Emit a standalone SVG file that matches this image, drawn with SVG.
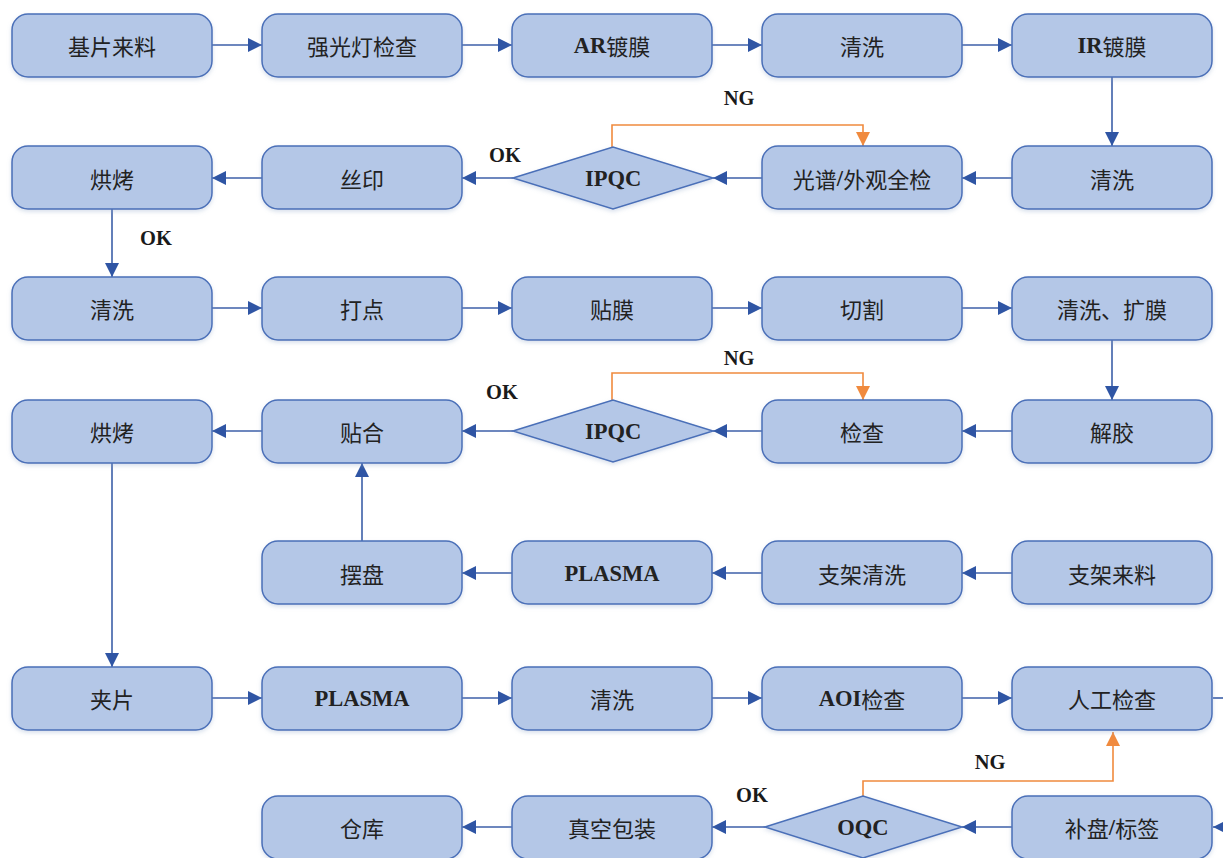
<svg xmlns="http://www.w3.org/2000/svg" width="1223" height="858" viewBox="0 0 1223 858">
<defs>
<style>
.n rect{fill:#b4c7e7;stroke:#4a6fb8;stroke-width:1.5;filter:url(#sh)}
.n polygon{fill:#b4c7e7;stroke:#4a6fb8;stroke-width:1.5;filter:url(#sh)}
.t{font-family:"Noto Sans CJK SC","Noto Sans",sans-serif;font-size:22px;fill:#222222;text-anchor:middle;dominant-baseline:central}
.l{font-family:"Liberation Serif",serif;font-weight:bold;font-size:22.5px}
.lab{font-family:"Liberation Serif",serif;font-weight:bold;font-size:20.5px;fill:#1a1a1a;text-anchor:middle;dominant-baseline:central}
.c path{fill:none;stroke:#3c5fa8;stroke-width:1.6;marker-end:url(#ab)}
.c path.o{stroke:#f08a3e;marker-end:url(#ao)}
</style>
<filter id="sh" x="-10%" y="-10%" width="120%" height="130%">
<feDropShadow dx="0" dy="2" stdDeviation="2" flood-color="#8fa4c8" flood-opacity="0.35"/>
</filter>
<marker id="ab" markerUnits="userSpaceOnUse" markerWidth="15" markerHeight="15" refX="14" refY="7.5" orient="auto">
<path d="M0,0.5 L14,7.5 L0,14.5 z" fill="#2f55a4"/>
</marker>
<marker id="ao" markerUnits="userSpaceOnUse" markerWidth="15" markerHeight="15" refX="14" refY="7.5" orient="auto">
<path d="M0,0.5 L14,7.5 L0,14.5 z" fill="#f08a3e"/>
</marker>
</defs>
<rect width="1223" height="858" fill="#ffffff"/>

<g class="c" id="connectors">
<path d="M212,45 H262"/>
<path d="M462,45 H512"/>
<path d="M712,45 H762"/>
<path d="M962,45 H1012"/>
<path d="M1112,77 V146"/>
<path d="M1012,178 H962"/>
<path d="M762,178 H713"/>
<path d="M513,178 H462"/>
<path d="M262,178 H212"/>
<path class="o" d="M612,147 V125 H863 V146"/>
<path d="M112,209 V277"/>
<path d="M212,308 H262"/>
<path d="M462,308 H512"/>
<path d="M712,308 H762"/>
<path d="M962,308 H1012"/>
<path d="M1112,340 V400"/>
<path d="M1012,431 H962"/>
<path d="M762,431 H713"/>
<path d="M513,431 H462"/>
<path d="M262,431 H212"/>
<path class="o" d="M612,400 V373 H863 V400"/>
<path d="M362,541 V463"/>
<path d="M1012,573 H962"/>
<path d="M762,573 H712"/>
<path d="M512,573 H462"/>
<path d="M112,463 V667"/>
<path d="M212,698 H262"/>
<path d="M462,698 H512"/>
<path d="M712,698 H762"/>
<path d="M962,698 H1012"/>
<path d="M1213,698 H1223" style="marker-end:none"/>
<path d="M1228,827 H1213"/>
<path d="M1012,827 H962"/>
<path d="M765,827 H712"/>
<path d="M512,827 H462"/>
<path class="o" d="M863,796 V781 H1113 V732"/>
</g>

<g class="lab-g">
<text class="lab" x="739" y="98">NG</text>
<text class="lab" x="505" y="155">OK</text>
<text class="lab" x="156" y="238">OK</text>
<text class="lab" x="739" y="358">NG</text>
<text class="lab" x="502" y="392">OK</text>
<text class="lab" x="990" y="762">NG</text>
<text class="lab" x="752" y="795">OK</text>
</g>

<g class="n" id="n1"><rect x="12" y="14" width="200" height="63" rx="16"/><text class="t" x="112" y="45">基片来料</text></g>
<g class="n" id="n2"><rect x="262" y="14" width="200" height="63" rx="16"/><text class="t" x="362" y="45">强光灯检查</text></g>
<g class="n" id="n3"><rect x="512" y="14" width="200" height="63" rx="16"/><text class="t" x="612" y="45"><tspan class="l">AR</tspan>镀膜</text></g>
<g class="n" id="n4"><rect x="762" y="14" width="200" height="63" rx="16"/><text class="t" x="862" y="45">清洗</text></g>
<g class="n" id="n5"><rect x="1012" y="14" width="200" height="63" rx="16"/><text class="t" x="1112" y="45"><tspan class="l">IR</tspan>镀膜</text></g>

<g class="n" id="n6"><rect x="12" y="146" width="200" height="63" rx="16"/><text class="t" x="112" y="178">烘烤</text></g>
<g class="n" id="n7"><rect x="262" y="146" width="200" height="63" rx="16"/><text class="t" x="362" y="178">丝印</text></g>
<g class="n" id="d1"><polygon points="513,178 613,147 713,178 613,209"/><text class="t l" x="613" y="178">IPQC</text></g>
<g class="n" id="n8"><rect x="762" y="146" width="200" height="63" rx="16"/><text class="t" x="862" y="178">光谱<tspan class="l" font-weight="normal">/</tspan>外观全检</text></g>
<g class="n" id="n9"><rect x="1012" y="146" width="200" height="63" rx="16"/><text class="t" x="1112" y="178">清洗</text></g>

<g class="n" id="n10"><rect x="12" y="277" width="200" height="63" rx="16"/><text class="t" x="112" y="308">清洗</text></g>
<g class="n" id="n11"><rect x="262" y="277" width="200" height="63" rx="16"/><text class="t" x="362" y="308">打点</text></g>
<g class="n" id="n12"><rect x="512" y="277" width="200" height="63" rx="16"/><text class="t" x="612" y="308">贴膜</text></g>
<g class="n" id="n13"><rect x="762" y="277" width="200" height="63" rx="16"/><text class="t" x="862" y="308">切割</text></g>
<g class="n" id="n14"><rect x="1012" y="277" width="200" height="63" rx="16"/><text class="t" x="1112" y="308">清洗、扩膜</text></g>

<g class="n" id="n15"><rect x="12" y="400" width="200" height="63" rx="16"/><text class="t" x="112" y="431">烘烤</text></g>
<g class="n" id="n16"><rect x="262" y="400" width="200" height="63" rx="16"/><text class="t" x="362" y="431">贴合</text></g>
<g class="n" id="d2"><polygon points="513,431 613,400 713,431 613,462"/><text class="t l" x="613" y="431">IPQC</text></g>
<g class="n" id="n17"><rect x="762" y="400" width="200" height="63" rx="16"/><text class="t" x="862" y="431">检查</text></g>
<g class="n" id="n18"><rect x="1012" y="400" width="200" height="63" rx="16"/><text class="t" x="1112" y="431">解胶</text></g>

<g class="n" id="n19"><rect x="262" y="541" width="200" height="63" rx="16"/><text class="t" x="362" y="573">摆盘</text></g>
<g class="n" id="n20"><rect x="512" y="541" width="200" height="63" rx="16"/><text class="t l" x="612" y="573">PLASMA</text></g>
<g class="n" id="n21"><rect x="762" y="541" width="200" height="63" rx="16"/><text class="t" x="862" y="573">支架清洗</text></g>
<g class="n" id="n22"><rect x="1012" y="541" width="200" height="63" rx="16"/><text class="t" x="1112" y="573">支架来料</text></g>

<g class="n" id="n23"><rect x="12" y="667" width="200" height="63" rx="16"/><text class="t" x="112" y="698">夹片</text></g>
<g class="n" id="n24"><rect x="262" y="667" width="200" height="63" rx="16"/><text class="t l" x="362" y="698">PLASMA</text></g>
<g class="n" id="n25"><rect x="512" y="667" width="200" height="63" rx="16"/><text class="t" x="612" y="698">清洗</text></g>
<g class="n" id="n26"><rect x="762" y="667" width="200" height="63" rx="16"/><text class="t" x="862" y="698"><tspan class="l">AOI</tspan>检查</text></g>
<g class="n" id="n27"><rect x="1012" y="667" width="200" height="63" rx="16"/><text class="t" x="1112" y="698">人工检查</text></g>

<g class="n" id="n28"><rect x="262" y="796" width="200" height="63" rx="16"/><text class="t" x="362" y="827">仓库</text></g>
<g class="n" id="n29"><rect x="512" y="796" width="200" height="63" rx="16"/><text class="t" x="612" y="827">真空包装</text></g>
<g class="n" id="d3"><polygon points="765,827 863,796 962,827 863,858"/><text class="t l" x="863" y="827">OQC</text></g>
<g class="n" id="n30"><rect x="1012" y="796" width="200" height="63" rx="16"/><text class="t" x="1112" y="827">补盘<tspan class="l" font-weight="normal">/</tspan>标签</text></g>
</svg>
